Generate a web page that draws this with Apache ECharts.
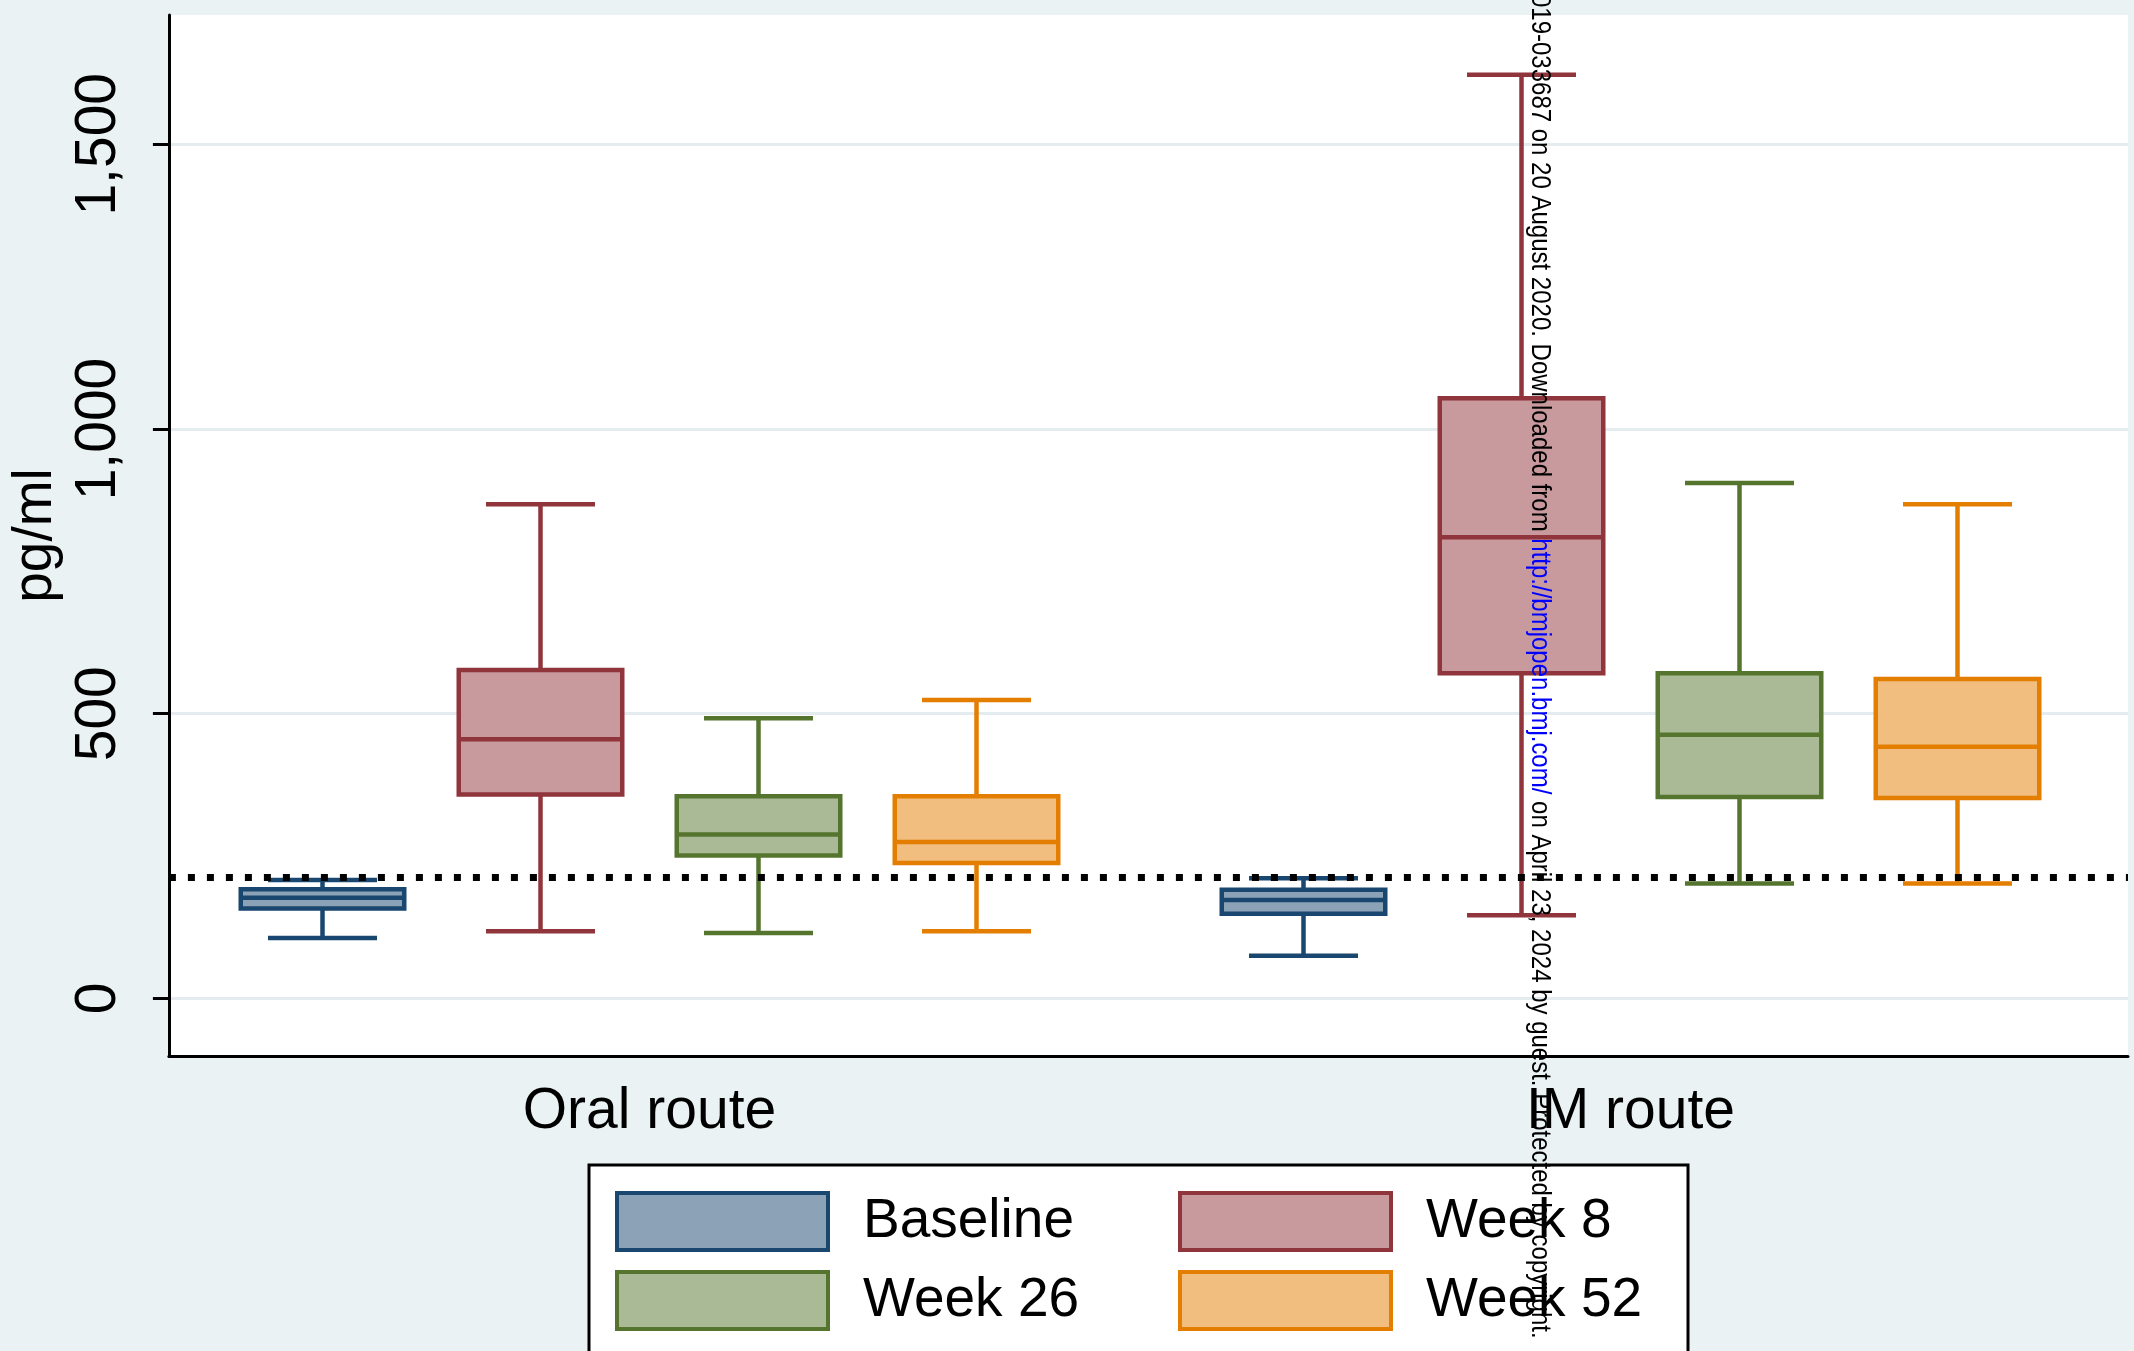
<!DOCTYPE html>
<html>
<head>
<meta charset="utf-8">
<script src="https://cdn.jsdelivr.net/npm/echarts@6/dist/echarts.min.js"></script>
<style>
html,body{margin:0;padding:0;background:#EAF2F3;}
#chart{width:2134px;height:1351px;}
</style>
</head>
<body>
<div id="chart"></div>
<script>
// ---------- data ----------
const groups = ['Oral route', 'IM route'];
const seriesNames = ['Baseline', 'Week 8', 'Week 26', 'Week 52'];
// each entry: [min, Q1, median, Q3, max] for [Oral route, IM route]
const baseline = [[106, 158, 177, 192, 208], [75, 149, 173, 191, 211]];
const week8    = [[118, 358, 455, 577, 868], [146, 571, 810, 1054, 1622]];
const week26   = [[115, 251, 288, 355, 492], [202, 354, 463, 571, 905]];
const week52   = [[118, 238, 275, 355, 524], [202, 352, 442, 561, 868]];
const yTickValues = [0, 500, 1000, 1500];
const referenceLevel = 213;
const watermarkA = '019-033687 on 20 August 2020. Downloaded from ';
const watermarkLink = 'http://bmjopen.bmj.com/';
const watermarkB = ' on April 23, 2024 by guest. Protected by copyright.';

// ---------- styling ----------
const lineColors = ['#1A476F', '#90353B', '#55752F', '#E37E00'];
const fillColors = ['#8CA3B7', '#C8999D', '#AABA97', '#F1BE7F'];
const FONT = '"Liberation Sans", Arial, sans-serif';
const Y_MIN = -101, Y_MAX = 1727;

// slot layout: 4 boxes per group, 2 slots apart, groups 9 slots apart
const SLOTS_PER_GROUP = 9, SLOT_COUNT = 16;
const slotNames = Array.from({length: SLOT_COUNT}, (_, i) => 's' + i);
function slotLabel(idx) {
  for (let g = 0; g < groups.length; g++) if (idx === g * SLOTS_PER_GROUP + 3) return groups[g];
  return '';
}
const allData = [baseline, week8, week26, week52];

function makeRender(si) {
  return function (params, api) {
    const x = api.value(0);
    const lo = api.coord([x, api.value(1)]);
    const q1 = api.coord([x, api.value(2)]);
    const md = api.coord([x, api.value(3)]);
    const q3 = api.coord([x, api.value(4)]);
    const hi = api.coord([x, api.value(5)]);
    const band = api.size([1, 0])[0];
    const bw = band * 1.5, cw = band;
    const cx = md[0];
    const lw = 4.5;
    const ls = {stroke: lineColors[si], lineWidth: lw};
    return {
      type: 'group',
      children: [
        {type: 'line', shape: {x1: cx, y1: hi[1], x2: cx, y2: q3[1]}, style: ls},
        {type: 'line', shape: {x1: cx, y1: q1[1], x2: cx, y2: lo[1]}, style: ls},
        {type: 'line', shape: {x1: cx - cw / 2, y1: hi[1], x2: cx + cw / 2, y2: hi[1]}, style: ls},
        {type: 'line', shape: {x1: cx - cw / 2, y1: lo[1], x2: cx + cw / 2, y2: lo[1]}, style: ls},
        {type: 'rect', shape: {x: cx - bw / 2, y: q3[1], width: bw, height: q1[1] - q3[1]},
          style: {fill: fillColors[si], stroke: lineColors[si], lineWidth: lw}},
        {type: 'line', shape: {x1: cx - bw / 2, y1: md[1], x2: cx + bw / 2, y2: md[1]}, style: ls}
      ]
    };
  };
}

const boxSeries = seriesNames.map((name, si) => ({
  name: name,
  type: 'custom',
  xAxisIndex: 1,
  yAxisIndex: 1,
  renderItem: makeRender(si),
  itemStyle: {color: fillColors[si], borderColor: lineColors[si], borderWidth: 4},
  encode: {x: 0, y: [1, 2, 3, 4, 5]},
  data: allData[si].map((v, g) => [g * SLOTS_PER_GROUP + si * 2].concat(v)),
  z: 3
}));

const option = {
  backgroundColor: '#EAF2F3',
  animation: false,
  textStyle: {fontFamily: FONT},
  grid: [
    {left: 115, right: 6, top: 15, bottom: 295, show: true, backgroundColor: '#ffffff', borderWidth: 0},
    {left: 268, right: 122, top: 15, bottom: 295}
  ],
  xAxis: [
    {gridIndex: 0, type: 'value', min: 0, max: 1,
      axisLine: {show: true, onZero: false, lineStyle: {color: '#000', width: 3}},
      axisTick: {show: false}, axisLabel: {show: false}, splitLine: {show: false}},
    {gridIndex: 1, type: 'category', data: slotNames,
      axisLine: {show: false}, axisTick: {show: false}, splitLine: {show: false},
      axisLabel: {interval: 0, formatter: (v, i) => slotLabel(i), fontSize: 57, color: '#000',
        fontFamily: FONT, margin: 28}}
  ],
  yAxis: [
    {gridIndex: 0, type: 'value', min: Y_MIN, max: Y_MAX,
      name: 'pg/ml', nameLocation: 'middle', nameRotate: 90, nameGap: 41,
      nameTextStyle: {fontSize: 55, color: '#000', fontFamily: FONT},
      axisLine: {show: true, onZero: false, lineStyle: {color: '#000', width: 3}},
      axisTick: {show: true, length: 16, lineStyle: {color: '#000', width: 3}, customValues: yTickValues},
      axisLabel: {rotate: 90, fontSize: 57, color: '#000', margin: 41, fontFamily: FONT,
        customValues: yTickValues,
        formatter: v => v.toLocaleString('en-US')},
      splitLine: {show: true, lineStyle: {color: '#E5ECEF', width: 3}}},
    {gridIndex: 1, type: 'value', min: Y_MIN, max: Y_MAX, show: false, splitLine: {show: false}}
  ],
  legend: {
    left: 615, top: 1191, width: 1400, padding: 0,
    itemGap: 18, itemWidth: 211, itemHeight: 57,
    icon: 'rect',
    selectedMode: false,
    textStyle: {fontSize: 55, color: '#000', fontFamily: FONT, width: 297, padding: [0, 0, 0, 30], lineHeight: 57},
    data: seriesNames.map((n, i) => ({name: n, icon: 'rect',
      itemStyle: {color: fillColors[i], borderColor: lineColors[i], borderWidth: 4}}))
  },
  graphic: [
    {type: 'rect', z: 0, shape: {x: 589, y: 1165, width: 1099, height: 200},
      style: {fill: '#ffffff', stroke: '#000', lineWidth: 3}},
    {type: 'text', z: 100, x: 1526, y: -6, rotation: -Math.PI / 2, scaleX: 0.857,
      style: {
        text: '{a|' + watermarkA + '}{b|' + watermarkLink + '}{a|' + watermarkB + '}',
        align: 'left', verticalAlign: 'bottom',
        rich: {
          a: {fontSize: 28, fill: '#000', color: '#000', fontFamily: FONT},
          b: {fontSize: 28, fill: '#0000ff', color: '#0000ff', fontFamily: FONT}
        }
      }}
  ],
  series: boxSeries.concat([{
    name: 'reference',
    type: 'line',
    xAxisIndex: 0, yAxisIndex: 0,
    data: [],
    z: 5,
    markLine: {
      silent: true, symbol: 'none', animation: false,
      label: {show: false},
      lineStyle: {color: '#000', type: [7, 12], width: 7, cap: 'butt'},
      data: [{yAxis: referenceLevel}]
    }
  }])
};

const chart = echarts.init(document.getElementById('chart'));
chart.setOption(option);
</script>
</body>
</html>
